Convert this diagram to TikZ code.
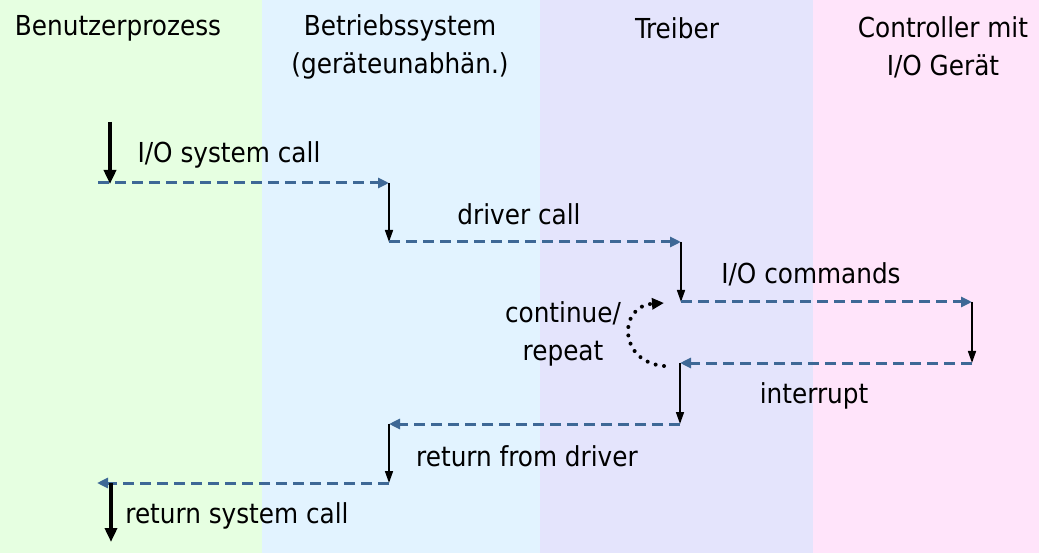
\documentclass[tikz,border=0pt]{standalone}
\usepackage{fontspec}
\setmainfont{DejaVu Sans Condensed}
\usetikzlibrary{arrows.meta}
\definecolor{bggreen}{RGB}{230,255,225}
\definecolor{bgblue}{RGB}{226,243,255}
\definecolor{bgpurple}{RGB}{228,228,252}
\definecolor{bgpink}{RGB}{255,228,250}
\definecolor{flowblue}{RGB}{62,104,150}
\tikzset{
  lbl/.style={inner sep=0pt, font=\fontsize{27.5}{38}\selectfont, text=black, align=center},
  callarrow/.style={draw=black, line width=1.6pt, -{Triangle[length=12pt,width=8pt]}},
  bigarrow/.style={draw=black, line width=4pt, -{Triangle[length=14pt,width=12pt]}},
  flow/.style={draw=flowblue, line width=3pt, dash pattern=on 11pt off 6pt, -{Triangle[length=11pt,width=10pt,fill=flowblue]}},
  loopy/.style={draw=black, line width=4pt, dash pattern=on 0pt off 8.5pt, line cap=round, -{Triangle[length=12pt,width=11pt]}}
}
\begin{document}
\begin{tikzpicture}[x=1pt,y=-1pt]
\useasboundingbox (0,0) rectangle (1039,553);
\fill[bggreen] (0,0) rectangle (262,553);
\fill[bgblue] (262,0) rectangle (540,553);
\fill[bgpurple] (540,0) rectangle (813,553);
\fill[bgpink] (813,0) rectangle (1039,553);

% column titles
\node[lbl] (t1) at (118,28) {Benutzerprozess};
\node[lbl] (t2) at (400,47) {Betriebssystem\\(geräteunabhän.)};
\node[lbl] (t3) at (677,28) {Treiber};
\node[lbl] (t4) at (943,47) {Controller mit\\I/O Gerät};

% corner coordinates
\coordinate (s0) at (110,122);
\coordinate (a0) at (98,183);
\coordinate (a1) at (110,184);
\coordinate (b0) at (389,183);
\coordinate (b1) at (389,242);
\coordinate (c0) at (681,242);
\coordinate (c1) at (681,302);
\coordinate (d0) at (972,302);
\coordinate (d1) at (972,363);
\coordinate (e0) at (680,363);
\coordinate (e1) at (680,424);
\coordinate (f0) at (389,424);
\coordinate (f1) at (389,483);
\coordinate (g0) at (97,483);
\coordinate (g1) at (111,483);
\coordinate (g2) at (111,542);
\coordinate (l0) at (664,366);
\coordinate (l1) at (664,303);

% arrows
\draw[bigarrow] (s0) -- (a1);
\draw[flow] (a0) -- (b0);
\draw[callarrow] (b0) -- (b1);
\draw[flow] (b1) -- (c0);
\draw[callarrow] (c0) -- (c1);
\draw[flow] (c1) -- (d0);
\draw[callarrow] (d0) -- (d1);
\draw[flow] (d1) -- (e0);
\draw[callarrow] (e0) -- (e1);
\draw[flow] (e1) -- (f0);
\draw[callarrow] (f0) -- (f1);
\draw[flow] (f1) -- (g0);
\draw[bigarrow] (g1) -- (g2);
\draw[loopy] (l0) .. controls (618,362) and (618,306) .. (l1);

% labels
\node[lbl] (n1) at (229,155) {I/O system call};
\node[lbl] (n2) at (519,214) {driver call};
\node[lbl] (n3) at (811,274) {I/O commands};
\node[lbl] (n4) at (563,334) {continue/\\repeat};
\node[lbl] (n5) at (814,396) {interrupt};
\node[lbl] (n6) at (527,456) {return from driver};
\node[lbl] (n7) at (237,516) {return system call};
\end{tikzpicture}
\end{document}
